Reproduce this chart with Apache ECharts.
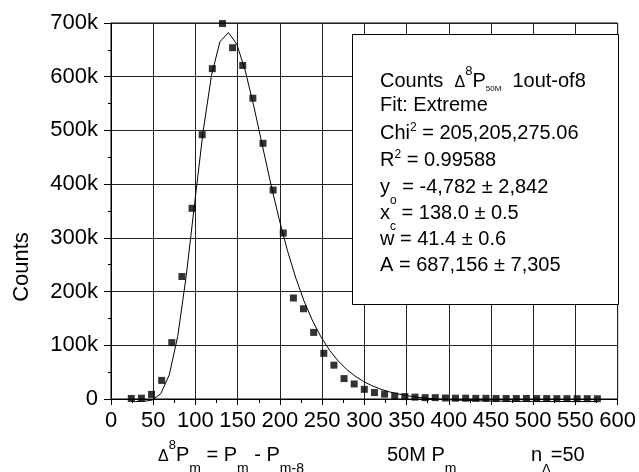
<!DOCTYPE html>
<html>
<head>
<meta charset="utf-8">
<script src="https://cdn.jsdelivr.net/npm/echarts@6/dist/echarts.min.js"></script>
<style>
  html, body { margin: 0; padding: 0; background: #fff; }
  #chart { width: 639px; height: 472px; }
</style>
</head>
<body>
<div id="chart"></div>
<script>
// measured counts (points)
var xData = [24, 36, 48, 60, 72, 84, 96, 108, 120, 132,
  144, 156, 168, 180, 192, 204, 216, 228, 240, 252,
  264, 276, 288, 300, 312, 324, 336, 348, 360, 372,
  384, 396, 408, 420, 432, 444, 456, 468, 480, 492,
  504, 516, 528, 540, 552, 564, 576];
var countData = [1000, 1500, 8600, 34600, 105000, 228000, 355000, 492000, 615000, 699000,
  654000, 621000, 560000, 476000, 389000, 309000, 188000, 168000, 124000, 85000,
  63000, 38000, 28000, 18000, 12000, 9000, 5600, 4500, 3500, 2500,
  2500, 1800, 1500, 1500, 1200, 1200, 1000, 1000, 900, 900,
  800, 800, 700, 700, 600, 600, 500];

// fit curve
var fitX = [24, 29, 39, 49, 59, 69, 79, 89, 99, 109, 119, 129, 139, 149, 159, 169, 179, 189, 199, 209,
  219, 229, 239, 249, 259, 269, 279, 289, 299, 309, 319, 329, 339, 349, 359, 379, 399, 429, 469, 519, 576];
var fitY = [-4800, -4760, -4420, -1780, 10100, 44900, 116600, 228100, 363700, 497100,
  602500, 665100, 682200, 660500, 611200, 545800, 473800, 402200, 335600, 276000,
  224500, 180800, 144500, 114600, 90500, 70900, 55200, 42700, 32700, 24800,
  18500, 13600, 9700, 6600, 4100, 700, -1400, -3100, -4200, -4600, -4700];

var legendLines = [
  "Counts  {d|Δ}{sup8|8}P{sub|50M}  1out-of8",
  "Fit: Extreme",
  "Chi{sup|2} = 205,205,275.06",
  "R{sup|2} = 0.99588",
  "y{sub2|o} = -4,782 ± 2,842",
  "x{sub2|c} = 138.0 ± 0.5",
  "w = 41.4 ± 0.6",
  "A = 687,156 ± 7,305"
];
var legendY = [81, 105, 133, 160, 187, 213, 239, 265];

var FONT = "'Liberation Sans', Arial, sans-serif";

// rich styles for super / subscripts
var rich = {
  d: { fontSize: 16, fontFamily: FONT, fill: "#000", lineHeight: 24, padding: [3, 0, 0, 0] },
  sup8: { fontSize: 13, fontFamily: FONT, fill: "#000", lineHeight: 24, padding: [0, 0, 20, 0] },
  sup: { fontSize: 12, fontFamily: FONT, fill: "#000", lineHeight: 24, padding: [0, 0, 10, 0] },
  sub: { fontSize: 8, fontFamily: FONT, fill: "#000", lineHeight: 24, padding: [15, 0, 0, 0] },
  sub2: { fontSize: 12, fontFamily: FONT, fill: "#000", lineHeight: 24, padding: [27, 0, 0, 0] },
  subx: { fontSize: 14, fontFamily: FONT, fill: "#000", lineHeight: 24, padding: [28, 0, 0, 0] },
  subd: { fontSize: 13, fontFamily: FONT, fill: "#000", lineHeight: 24, padding: [28, 0, 0, 0] }
};

function textEl(text, x, y, size) {
  return {
    type: "text",
    z: 101,
    style: {
      text: text,
      x: x,
      y: y,
      fill: "#000",
      fontSize: size,
      fontFamily: FONT,
      lineHeight: 24,
      align: "left",
      verticalAlign: "middle",
      rich: rich
    }
  };
}

var graphics = [
  {
    type: "rect",
    z: 100,
    shape: { x: 352.5, y: 34.5, width: 266, height: 270 },
    style: { fill: "#fff", stroke: "#000", lineWidth: 1 }
  },
  {
    type: "text",
    z: 101,
    x: 22,
    y: 267,
    rotation: Math.PI / 2,
    style: {
      text: "Counts",
      fill: "#000",
      fontSize: 22,
      fontFamily: FONT,
      align: "center",
      verticalAlign: "middle"
    }
  },
  textEl("{d|Δ}{sup8|8}P{subx|m} = P{subx|m} - P{subx|m-8}", 158, 455, 20),
  textEl("50M P{subx|m}", 387, 455, 20),
  textEl("n{subd|Δ}=50", 531, 455, 20)
];
legendLines.forEach(function (t, i) {
  graphics.push(textEl(t, 380, legendY[i], 20));
});

var chart = echarts.init(document.getElementById("chart"));
chart.setOption({
  animation: false,
  backgroundColor: "#fff",
  grid: {
    left: 111,
    right: 20,
    top: 23,
    bottom: 73,
    show: true,
    borderColor: "#000",
    borderWidth: 1,
    backgroundColor: "transparent"
  },
  xAxis: {
    type: "value",
    min: 0,
    max: 600,
    interval: 50,
    axisLine: { show: true, lineStyle: { color: "#000", width: 1 } },
    axisTick: { show: true, inside: false, length: 6, lineStyle: { color: "#000" } },
    minorTick: { show: true, splitNumber: 2, length: 4, lineStyle: { color: "#000" } },
    splitLine: { show: true, lineStyle: { color: "#222", width: 1 } },
    axisLabel: { color: "#000", fontSize: 22, fontFamily: FONT, margin: 11 }
  },
  yAxis: {
    type: "value",
    min: 0,
    max: 700000,
    interval: 100000,
    axisLine: { show: true, lineStyle: { color: "#000", width: 1 } },
    axisTick: { show: true, inside: false, length: 7, lineStyle: { color: "#000" } },
    minorTick: { show: true, splitNumber: 2, length: 3, lineStyle: { color: "#000" } },
    splitLine: { show: true, lineStyle: { color: "#222", width: 1 } },
    axisLabel: {
      color: "#000",
      fontSize: 22,
      fontFamily: FONT,
      margin: 13,
      formatter: function (v) {
        return v === 0 ? "0" : v / 1000 + "k";
      }
    }
  },
  series: [
    {
      name: "Fit",
      type: "line",
      data: fitX.map(function (x, i) { return [x, fitY[i]]; }),
      showSymbol: false,
      clip: false,
      lineStyle: { color: "#000", width: 1 },
      z: 3
    },
    {
      name: "Counts",
      type: "scatter",
      symbol: "rect",
      symbolSize: 7,
      itemStyle: { color: "#000" },
      data: xData.map(function (x, i) { return [x, countData[i]]; }),
      z: 4
    }
  ],
  graphic: graphics
});
</script>
</body>
</html>
